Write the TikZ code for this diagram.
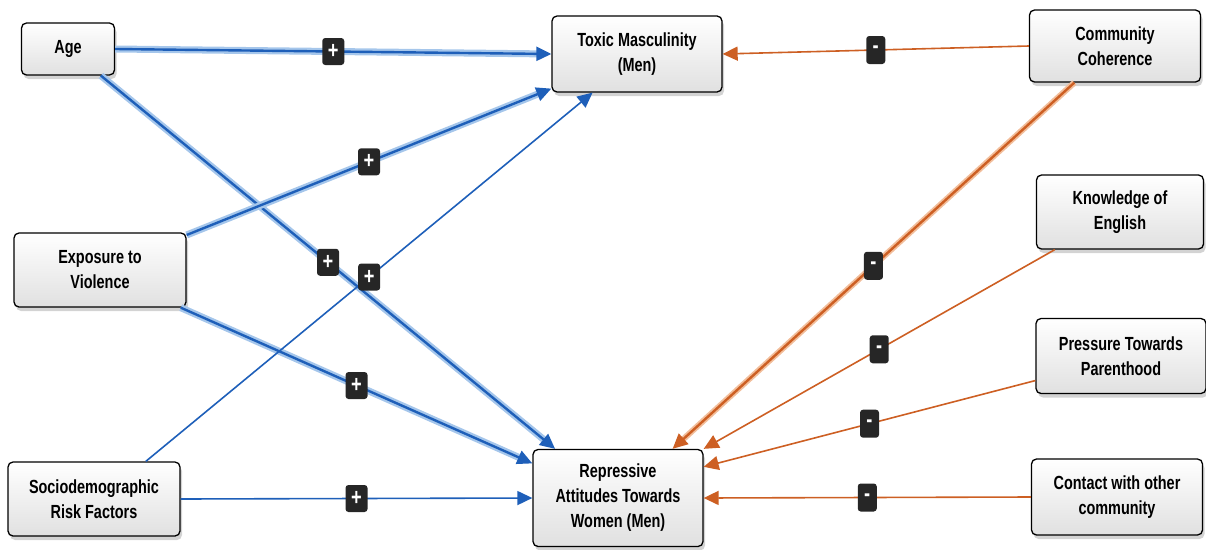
\documentclass[tikz,border=0pt]{standalone}
\usepackage{fontspec}
\newfontfamily\boxfont[FakeStretch=0.76]{Liberation Sans}
\usetikzlibrary{arrows.meta,shadows}
\definecolor{linkblue}{RGB}{30,95,185}
\definecolor{haloblue}{RGB}{165,198,235}
\definecolor{linkorange}{RGB}{205,95,35}
\definecolor{haloorange}{RGB}{242,190,155}
\definecolor{badgegray}{RGB}{38,38,38}
\begin{document}
\begin{tikzpicture}[x=1pt,y=-1pt,
  box/.style={draw=black, line width=1.3pt, rounded corners=5pt,
    top color=white, bottom color=black!12,
    drop shadow={shadow xshift=2pt,shadow yshift=-4pt,opacity=.35},
    align=center, inner sep=0pt,
    font=\boxfont\bfseries\fontsize{19}{25}\selectfont},
  badge/.style={fill=badgegray, rounded corners=3pt, inner sep=0pt,
    text=white, font=\boxfont\bfseries\fontsize{24}{24}\selectfont},
  plus/.style={badge, minimum width=22pt, minimum height=27pt},
  minus/.style={badge, minimum width=19pt, minimum height=28pt},
  tip/.style={-{Triangle[length=15pt,width=14pt]}},
  bluethick/.style={linkblue, line width=2.4pt, tip,
    preaction={draw=haloblue, line width=7pt, arrows=-, shorten >=12pt}},
  bluethin/.style={linkblue, line width=1.6pt, tip},
  orangethick/.style={linkorange, line width=2.4pt, tip,
    preaction={draw=haloorange, line width=6pt, arrows=-, shorten >=12pt}},
  orangethin/.style={linkorange, line width=1.6pt, tip}]
\useasboundingbox (0,0) rectangle (1206,549);
% factors
\node[box, minimum width=93pt, minimum height=52pt] (age) at (68,49) {Age};
\node[box, minimum width=172pt, minimum height=74pt] (exp) at (100,270) {Exposure to\\Violence};
\node[box, minimum width=172pt, minimum height=74pt] (soc) at (94,499) {Sociodemographic\\Risk Factors};
\node[box, minimum width=170pt, minimum height=76pt] (tox) at (637,54) {Toxic Masculinity\\(Men)};
\node[box, minimum width=170pt, minimum height=97pt] (rep) at (618,498) {Repressive\\Attitudes Towards\\Women (Men)};
\node[box, minimum width=171pt, minimum height=72pt] (com) at (1115,46) {Community\\Coherence};
\node[box, minimum width=167pt, minimum height=74pt] (kno) at (1120,212) {Knowledge of\\English};
\node[box, minimum width=170pt, minimum height=75pt] (pre) at (1121,356) {Pressure Towards\\Parenthood};
\node[box, minimum width=171pt, minimum height=76pt] (con) at (1117,497) {Contact with other\\community};
% positive links
\draw[bluethick] (age.east) -- node[plus]{+} (tox.west);
\draw[bluethick] (age.-39) -- node[plus]{+} (rep.142);
\draw[bluethick] (exp.22) -- node[plus]{+} (tox.202);
\draw[bluethick] (exp.-25) -- node[plus]{+} (rep.158);
\draw[bluethin] (soc.36) -- node[plus]{+} (tox.221);
\draw[bluethin] (soc.east) -- node[plus]{+} (rep.west);
% negative links
\draw[orangethin] (com.west) -- node[minus]{-} (tox.east);
\draw[orangethick] (com.222) -- node[minus]{-} (rep.42);
\draw[orangethin] (kno.210) -- node[minus]{-} (rep.north east);
\draw[orangethin] (pre.196) -- node[minus]{-} (rep.20);
\draw[orangethin] (con.west) -- node[minus]{-} (rep.east);
\end{tikzpicture}
\end{document}
